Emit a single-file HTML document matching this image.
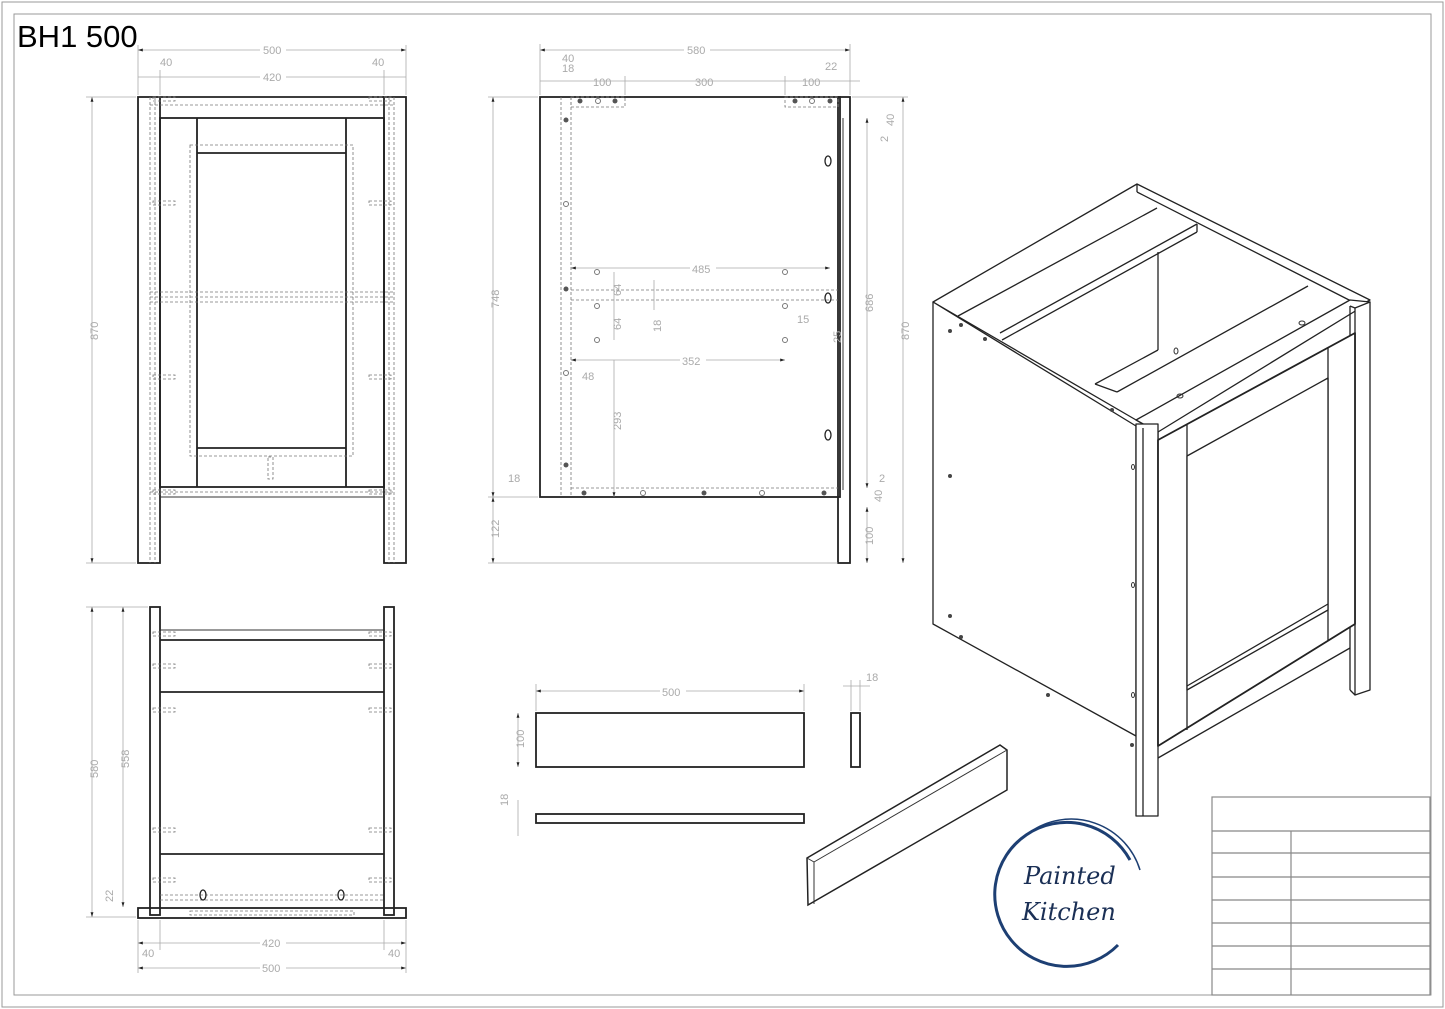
<!DOCTYPE html>
<html><head><meta charset="utf-8">
<style>
html,body{margin:0;padding:0;background:#fff;}
svg{display:block;}
.d{stroke:#aaa;stroke-width:0.8;fill:none;}
.t{fill:#aaa;font-family:"Liberation Sans",sans-serif;font-size:11px;}
.k{stroke:#222;stroke-width:1.8;fill:none;}
.m{stroke:#333;stroke-width:1;fill:none;}
.h{stroke:#777;stroke-width:0.8;fill:none;stroke-dasharray:3,2;}
</style></head>
<body>
<svg width="1445" height="1009" viewBox="0 0 1445 1009" xmlns="http://www.w3.org/2000/svg">
<defs>
<marker id="a" viewBox="0 0 10 10" refX="10" refY="5" markerWidth="6" markerHeight="6" orient="auto-start-reverse"><path d="M0,2L10,5L0,8z" fill="#222"/></marker>
</defs>
<rect x="2" y="2" width="1441" height="1005" fill="none" stroke="#999" stroke-width="1"/>
<rect x="14" y="14" width="1417" height="981" fill="none" stroke="#999" stroke-width="1"/>
<text x="17" y="47" font-family="Liberation Sans,sans-serif" font-size="31" fill="#000">BH1 500</text>

<!-- ============ FRONT VIEW ============ -->
<g>
<rect x="138" y="97" width="22" height="466" class="k"/>
<rect x="384" y="97" width="22" height="466" class="k"/>
<line x1="160" y1="97" x2="384" y2="97" class="k"/>
<rect x="160" y="118" width="224" height="369" class="k"/>
<line x1="160" y1="497" x2="384" y2="497" class="m"/>
<line x1="197" y1="118" x2="197" y2="487" class="k"/>
<line x1="346" y1="118" x2="346" y2="487" class="k"/>
<line x1="197" y1="153" x2="346" y2="153" class="k"/>
<line x1="197" y1="448" x2="346" y2="448" class="k"/>
<rect x="190" y="145" width="163" height="311" class="h"/>
<line x1="150" y1="97" x2="150" y2="563" class="h"/>
<line x1="155" y1="97" x2="155" y2="563" class="h"/>
<line x1="389" y1="97" x2="389" y2="563" class="h"/>
<line x1="394" y1="97" x2="394" y2="563" class="h"/>
<line x1="150" y1="105" x2="394" y2="105" class="h"/>
<line x1="150" y1="292" x2="394" y2="292" class="h"/>
<line x1="150" y1="297" x2="394" y2="297" class="h"/>
<line x1="150" y1="302" x2="394" y2="302" class="h"/>
<line x1="150" y1="492" x2="394" y2="492" class="h"/>
<rect x="153" y="97" width="22" height="4" class="h"/><rect x="369" y="97" width="22" height="4" class="h"/>
<rect x="153" y="201" width="22" height="4" class="h"/><rect x="369" y="201" width="22" height="4" class="h"/>
<rect x="153" y="375" width="22" height="4" class="h"/><rect x="369" y="375" width="22" height="4" class="h"/>
<rect x="153" y="490" width="22" height="4" class="h"/><rect x="369" y="490" width="22" height="4" class="h"/>
<rect x="268" y="457" width="5" height="22" class="h"/>
<line x1="138" y1="50" x2="406" y2="50" class="d" marker-start="url(#a)" marker-end="url(#a)"/>
<rect x="260" y="44" width="26" height="12" fill="#fff"/><text x="263" y="54" class="t">500</text>
<line x1="138" y1="77" x2="406" y2="77" class="d"/>
<rect x="260" y="71" width="26" height="12" fill="#fff"/><text x="263" y="81" class="t">420</text>
<text x="160" y="66" class="t">40</text><text x="372" y="66" class="t">40</text>
<line x1="138" y1="45" x2="138" y2="95" class="d"/><line x1="406" y1="45" x2="406" y2="95" class="d"/>
<line x1="160" y1="70" x2="160" y2="95" class="d"/><line x1="384" y1="70" x2="384" y2="95" class="d"/>
<line x1="92" y1="97" x2="92" y2="563" class="d" marker-start="url(#a)" marker-end="url(#a)"/>
<line x1="86" y1="97" x2="136" y2="97" class="d"/><line x1="86" y1="563" x2="136" y2="563" class="d"/>
<text transform="translate(98,340) rotate(-90)" class="t">870</text>
</g>

<!-- ============ SIDE VIEW ============ -->
<g>
<rect x="540" y="97" width="300" height="400" class="k"/>
<rect x="838" y="97" width="12" height="466" class="k"/>
<line x1="843" y1="118" x2="843" y2="490" class="m"/>
<line x1="561" y1="97" x2="561" y2="497" class="h"/>
<line x1="571" y1="97" x2="571" y2="497" class="h"/>
<line x1="571" y1="488" x2="838" y2="488" class="h"/>
<rect x="571" y="97" width="54" height="10" class="h"/>
<rect x="785" y="97" width="53" height="10" class="h"/>
<line x1="571" y1="290" x2="838" y2="290" class="h"/>
<line x1="571" y1="300" x2="838" y2="300" class="h"/>
<g fill="#555">
<circle cx="580" cy="101" r="2.5"/><circle cx="615" cy="101" r="2.5"/><circle cx="795" cy="101" r="2.5"/><circle cx="830" cy="101" r="2.5"/>
<circle cx="566" cy="120" r="2.5"/><circle cx="566" cy="289" r="2.5"/><circle cx="566" cy="465" r="2.5"/>
<circle cx="584" cy="493" r="2.5"/><circle cx="704" cy="493" r="2.5"/><circle cx="824" cy="493" r="2.5"/>
</g>
<g fill="none" stroke="#777">
<circle cx="598" cy="101" r="2.5"/><circle cx="812" cy="101" r="2.5"/>
<circle cx="566" cy="204" r="2.5"/><circle cx="566" cy="373" r="2.5"/>
<circle cx="643" cy="493" r="2.5"/><circle cx="762" cy="493" r="2.5"/>
<circle cx="597" cy="272" r="2.5"/><circle cx="785" cy="272" r="2.5"/>
<circle cx="597" cy="306" r="2.5"/><circle cx="785" cy="306" r="2.5"/>
<circle cx="597" cy="340" r="2.5"/><circle cx="785" cy="340" r="2.5"/>
</g>
<g stroke="#222" stroke-width="1.3" fill="none">
<ellipse cx="828" cy="161" rx="3" ry="5"/><ellipse cx="828" cy="298" rx="3" ry="5"/><ellipse cx="828" cy="435" rx="3" ry="5"/>
</g>
<line x1="540" y1="50" x2="850" y2="50" class="d" marker-start="url(#a)" marker-end="url(#a)"/>
<rect x="684" y="44" width="26" height="12" fill="#fff"/><text x="687" y="54" class="t">580</text>
<line x1="540" y1="81" x2="860" y2="81" class="d"/>
<text x="593" y="86" class="t">100</text><text x="695" y="86" class="t">300</text><text x="802" y="86" class="t">100</text>
<text x="562" y="62" class="t">40</text><text x="562" y="72" class="t">18</text><text x="825" y="70" class="t">22</text>
<line x1="540" y1="44" x2="540" y2="95" class="d"/><line x1="850" y1="44" x2="850" y2="95" class="d"/>
<line x1="625" y1="76" x2="625" y2="95" class="d"/><line x1="785" y1="76" x2="785" y2="95" class="d"/>
<line x1="493" y1="97" x2="493" y2="497" class="d" marker-start="url(#a)" marker-end="url(#a)"/>
<line x1="493" y1="497" x2="493" y2="563" class="d" marker-start="url(#a)" marker-end="url(#a)"/>
<line x1="488" y1="97" x2="538" y2="97" class="d"/><line x1="488" y1="563" x2="838" y2="563" class="d"/><line x1="488" y1="497" x2="538" y2="497" class="d"/>
<text transform="translate(499,308) rotate(-90)" class="t">748</text>
<text transform="translate(499,538) rotate(-90)" class="t">122</text>
<text x="508" y="482" class="t">18</text>
<line x1="903" y1="97" x2="903" y2="563" class="d" marker-start="url(#a)" marker-end="url(#a)"/>
<line x1="852" y1="97" x2="908" y2="97" class="d"/>
<text transform="translate(909,340) rotate(-90)" class="t">870</text>
<line x1="867" y1="118" x2="867" y2="488" class="d" marker-start="url(#a)" marker-end="url(#a)"/>
<line x1="867" y1="507" x2="867" y2="563" class="d" marker-start="url(#a)" marker-end="url(#a)"/>
<text transform="translate(873,312) rotate(-90)" class="t">686</text>
<text transform="translate(873,545) rotate(-90)" class="t">100</text>
<text transform="translate(894,126) rotate(-90)" class="t">40</text>
<text transform="translate(888,142) rotate(-90)" class="t">2</text>
<text transform="translate(882,502) rotate(-90)" class="t">40</text>
<text x="879" y="482" class="t">2</text>
<line x1="571" y1="268" x2="830" y2="268" class="d" marker-start="url(#a)" marker-end="url(#a)"/>
<rect x="690" y="262" width="26" height="12" fill="#fff"/><text x="692" y="273" class="t">485</text>
<line x1="571" y1="360" x2="785" y2="360" class="d" marker-start="url(#a)" marker-end="url(#a)"/>
<rect x="680" y="354" width="26" height="12" fill="#fff"/><text x="682" y="365" class="t">352</text>
<text x="582" y="380" class="t">48</text>
<line x1="614" y1="360" x2="614" y2="497" class="d" marker-end="url(#a)"/>
<text transform="translate(621,430) rotate(-90)" class="t">293</text>
<line x1="614" y1="272" x2="614" y2="340" class="d"/>
<text transform="translate(621,296) rotate(-90)" class="t">64</text>
<text transform="translate(621,330) rotate(-90)" class="t">64</text>
<line x1="654" y1="280" x2="654" y2="310" class="d"/>
<text transform="translate(661,332) rotate(-90)" class="t">18</text>
<text x="797" y="323" class="t">15</text>
<text transform="translate(841,343) rotate(-90)" class="t">25</text>
</g>

<!-- ============ BOTTOM VIEW ============ -->
<g>
<rect x="150" y="607" width="10" height="308" class="k"/>
<rect x="384" y="607" width="10" height="308" class="k"/>
<line x1="160" y1="630" x2="384" y2="630" class="m"/>
<line x1="160" y1="640" x2="384" y2="640" class="k"/>
<line x1="160" y1="692" x2="384" y2="692" class="k"/>
<line x1="160" y1="854" x2="384" y2="854" class="k"/>
<rect x="138" y="908" width="268" height="10" class="k"/>
<rect x="190" y="911" width="164" height="4" class="h"/>
<line x1="160" y1="895" x2="384" y2="895" class="h"/><line x1="160" y1="900" x2="384" y2="900" class="h"/>
<g class="h">
<rect x="153" y="632" width="22" height="4"/><rect x="369" y="632" width="22" height="4"/>
<rect x="153" y="664" width="22" height="4"/><rect x="369" y="664" width="22" height="4"/>
<rect x="153" y="708" width="22" height="4"/><rect x="369" y="708" width="22" height="4"/>
<rect x="153" y="828" width="22" height="4"/><rect x="369" y="828" width="22" height="4"/>
<rect x="153" y="878" width="22" height="4"/><rect x="369" y="878" width="22" height="4"/>
</g>
<g stroke="#222" stroke-width="1.3" fill="none"><ellipse cx="203" cy="895" rx="3" ry="5"/><ellipse cx="341" cy="895" rx="3" ry="5"/></g>
<line x1="92" y1="607" x2="92" y2="917" class="d" marker-start="url(#a)" marker-end="url(#a)"/>
<line x1="123" y1="607" x2="123" y2="907" class="d" marker-start="url(#a)" marker-end="url(#a)"/>
<line x1="86" y1="607" x2="148" y2="607" class="d"/><line x1="86" y1="917" x2="136" y2="917" class="d"/>
<text transform="translate(98,778) rotate(-90)" class="t">580</text>
<text transform="translate(129,768) rotate(-90)" class="t">558</text>
<text transform="translate(113,902) rotate(-90)" class="t">22</text>
<line x1="138" y1="943" x2="406" y2="943" class="d" marker-start="url(#a)" marker-end="url(#a)"/>
<rect x="260" y="937" width="26" height="12" fill="#fff"/><text x="262" y="947" class="t">420</text>
<line x1="138" y1="968" x2="406" y2="968" class="d" marker-start="url(#a)" marker-end="url(#a)"/>
<rect x="260" y="962" width="26" height="12" fill="#fff"/><text x="262" y="972" class="t">500</text>
<text x="142" y="957" class="t">40</text><text x="388" y="957" class="t">40</text>
<line x1="138" y1="920" x2="138" y2="973" class="d"/><line x1="406" y1="920" x2="406" y2="973" class="d"/>
<line x1="160" y1="920" x2="160" y2="950" class="d"/><line x1="384" y1="920" x2="384" y2="950" class="d"/>
</g>

<!-- ============ PLINTH PARTS ============ -->
<g>
<rect x="536" y="713" width="268" height="54" class="k"/>
<rect x="851" y="713" width="9" height="54" class="k"/>
<rect x="536" y="814" width="268" height="9" class="k"/>
<line x1="536" y1="691" x2="804" y2="691" class="d" marker-start="url(#a)" marker-end="url(#a)"/>
<line x1="536" y1="684" x2="536" y2="711" class="d"/><line x1="804" y1="684" x2="804" y2="711" class="d"/>
<rect x="660" y="685" width="26" height="12" fill="#fff"/><text x="662" y="696" class="t">500</text>
<line x1="518" y1="713" x2="518" y2="767" class="d" marker-start="url(#a)" marker-end="url(#a)"/>
<text transform="translate(524,748) rotate(-90)" class="t">100</text>
<text x="866" y="681" class="t">18</text>
<line x1="843" y1="686" x2="870" y2="686" class="d"/>
<text transform="translate(508,806) rotate(-90)" class="t">18</text>
<line x1="518" y1="800" x2="518" y2="836" class="d"/>
<line x1="851" y1="680" x2="851" y2="711" class="d"/><line x1="860" y1="680" x2="860" y2="711" class="d"/>
<polygon points="807,858 1000,745 1007,750 1007,790 808,905" fill="#fff" stroke="#222" stroke-width="1.5"/>
<line x1="807" y1="858" x2="814" y2="862" class="m"/>
<line x1="814" y1="862" x2="1007" y2="750" class="m"/>
<line x1="814" y1="862" x2="814" y2="904" class="m"/>
</g>

<!-- ============ ISO CABINET ============ -->
<g stroke="#222" stroke-width="1.3" fill="#fff" stroke-linejoin="round">
<polygon points="1137,184 1370,300 1143,424 933,302" fill="#fff"/>
<line x1="958" y1="316" x2="1157" y2="208"/>
<line x1="1000" y1="333" x2="1197" y2="224"/>
<line x1="1002" y1="340" x2="1197" y2="232"/>
<line x1="1197" y1="224" x2="1197" y2="232"/>
<line x1="1158" y1="252" x2="1158" y2="350"/>
<line x1="1095" y1="384" x2="1158" y2="350"/>
<line x1="1095" y1="384" x2="1117" y2="392"/>
<line x1="1117" y1="392" x2="1308" y2="286"/>
<line x1="1137" y1="184" x2="1137" y2="192"/>
<line x1="1137" y1="192" x2="1355" y2="303"/>
<polygon points="933,302 1136,426 1136,736 933,624"/>
<polygon points="1136,420 1350,300 1370,302 1158,432"/>
<line x1="1158" y1="432" x2="1158" y2="440"/>
<rect x="1136" y="424" width="22" height="392"/>
<line x1="1143" y1="428" x2="1143" y2="816"/>
<polygon points="1355,308 1370,302 1370,690 1355,695"/>
<line x1="1350" y1="306" x2="1355" y2="308"/>
<line x1="1350" y1="306" x2="1350" y2="690"/>
<line x1="1350" y1="690" x2="1355" y2="695"/>
<polygon points="1158,440 1355,333 1355,624 1158,746" stroke-width="1.8"/>
<line x1="1187" y1="425" x2="1187" y2="730"/>
<line x1="1328" y1="348" x2="1328" y2="640"/>
<polygon points="1187,456 1328,378 1328,610 1187,690"/>
<line x1="1187" y1="686" x2="1328" y2="604"/>
<line x1="1158" y1="758" x2="1350" y2="648"/>
</g>
<g fill="#444">
<circle cx="950" cy="331" r="2"/><circle cx="961" cy="325" r="2"/><circle cx="985" cy="339" r="2"/>
<circle cx="1112" cy="410" r="2"/><circle cx="950" cy="476" r="2"/><circle cx="950" cy="616" r="2"/>
<circle cx="961" cy="637" r="2"/><circle cx="1048" cy="695" r="2"/><circle cx="1132" cy="745" r="2"/>
</g>
<g fill="none" stroke="#333" stroke-width="1">
<ellipse cx="1176" cy="351" rx="2" ry="3"/><ellipse cx="1180" cy="396" rx="3" ry="2"/><ellipse cx="1302" cy="323" rx="3" ry="2"/>
<ellipse cx="1133" cy="467" rx="1.5" ry="2.5"/><ellipse cx="1133" cy="585" rx="1.5" ry="2.5"/><ellipse cx="1133" cy="695" rx="1.5" ry="2.5"/>
</g>

<!-- ============ LOGO ============ -->
<path d="M1130,860 A72,72 0 1 0 1118,945" fill="none" stroke="#1d3f73" stroke-width="3"/>
<path d="M1030,832 A72,72 0 0 1 1140,870" fill="none" stroke="#1d3f73" stroke-width="1.5"/>
<text x="1024" y="884" font-family="DejaVu Serif,serif" font-style="italic" font-size="24" fill="#1a2f55">Painted</text>
<text x="1022" y="920" font-family="DejaVu Serif,serif" font-style="italic" font-size="24" fill="#1a2f55">Kitchen</text>

<!-- ============ TITLE BLOCK ============ -->
<g stroke="#888" stroke-width="1.2" fill="none">
<rect x="1212" y="797" width="218" height="198"/>
<line x1="1212" y1="831" x2="1430" y2="831"/>
<line x1="1212" y1="853" x2="1430" y2="853"/>
<line x1="1212" y1="877" x2="1430" y2="877"/>
<line x1="1212" y1="900" x2="1430" y2="900"/>
<line x1="1212" y1="923" x2="1430" y2="923"/>
<line x1="1212" y1="946" x2="1430" y2="946"/>
<line x1="1212" y1="969" x2="1430" y2="969"/>
<line x1="1291" y1="831" x2="1291" y2="995"/>
</g>
</svg>
</body></html>
